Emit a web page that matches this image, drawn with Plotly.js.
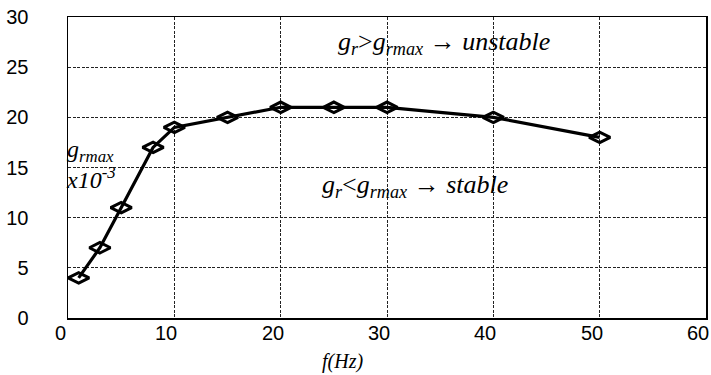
<!DOCTYPE html>
<html><head><meta charset="utf-8">
<script src="https://cdn.plot.ly/plotly-3.0.1.min.js"></script>
<style>html,body{margin:0;padding:0;background:#fff;}</style>
</head><body>
<div id="chart" style="width:711px;height:375px;"></div>
<script>
const freqHz = [1, 3, 5, 8, 10, 15, 20, 25, 30, 40, 50];
const grmax = [4, 7, 11, 17, 19, 20, 21, 21, 21, 20, 18];
const xTicks = [0, 10, 20, 30, 40, 50, 60];
const yTicks = [0, 5, 10, 15, 20, 25, 30];

const serif = 'Liberation Serif, Times New Roman, serif';
const sans = 'Liberation Sans, Arial, sans-serif';
const trace = {
  x: freqHz, y: grmax, type: 'scatter', mode: 'lines+markers',
  line: {color: '#000', width: 3.2},
  marker: {symbol: 'diamond-wide-open', size: 15, color: '#000', line: {color: '#000', width: 3}},
  hoverinfo: 'skip', showlegend: false, cliponaxis: false
};
const axisCommon = {
  showline: true, linecolor: '#000', linewidth: 1.5, mirror: true,
  showgrid: true, gridcolor: '#222', gridwidth: 1, griddash: '3px,1.5px',
  zeroline: false, ticks: '', fixedrange: true,
  tickfont: {family: sans, size: 20, color: '#000'}
};
// x tick labels sit slightly left of their grid lines in the reference
const xTickLabels = xTicks.map(v => ({
  xref: 'x', yref: 'paper', x: v, y: 0, xanchor: 'center', yanchor: 'top',
  xshift: -8, yshift: -2, text: String(v), showarrow: false,
  font: {family: sans, size: 20, color: '#000'}
}));
const layout = {
  width: 711, height: 375,
  margin: {l: 68, r: 5, t: 17, b: 57},
  paper_bgcolor: '#fff', plot_bgcolor: '#fff',
  xaxis: Object.assign({}, axisCommon, {
    range: [0, 60], tickmode: 'array', tickvals: xTicks, showticklabels: false
  }),
  yaxis: Object.assign({}, axisCommon, {
    range: [0, 30], tickmode: 'array', tickvals: yTicks, ticktext: yTicks.map(String),
    ticklabelstandoff: 34
  }),
  annotations: xTickLabels.concat([
    {xref: 'paper', yref: 'paper', x: 0.43, y: -0.145, xanchor: 'center', yanchor: 'middle',
     text: '<i>f(Hz)</i>', showarrow: false, font: {family: serif, size: 20, color: '#000'}},
    {xref: 'paper', yref: 'paper', x: -0.006, y: 0.51, xanchor: 'left', yanchor: 'middle', align: 'left',
     text: '<i>g<sub>rmax</sub></i><br><i>x10<sup>-3</sup></i>', showarrow: false,
     font: {family: serif, size: 24, color: '#000'}},
    {xref: 'paper', yref: 'paper', x: 0.42, y: 0.915, xanchor: 'left', yanchor: 'middle',
     text: '<i>g<sub>r</sub></i>&gt;<i>g<sub>rmax</sub></i> \u2192 <i>unstable</i>', showarrow: false,
     font: {family: serif, size: 26, color: '#000'}},
    {xref: 'paper', yref: 'paper', x: 0.395, y: 0.44, xanchor: 'left', yanchor: 'middle',
     text: '<i>g<sub>r</sub></i>&lt;<i>g<sub>rmax</sub></i> \u2192 <i>stable</i>', showarrow: false,
     font: {family: serif, size: 26, color: '#000'}}
  ])
};
Plotly.newPlot('chart', [trace], layout, {displayModeBar: false, staticPlot: true});
</script>
</body></html>
